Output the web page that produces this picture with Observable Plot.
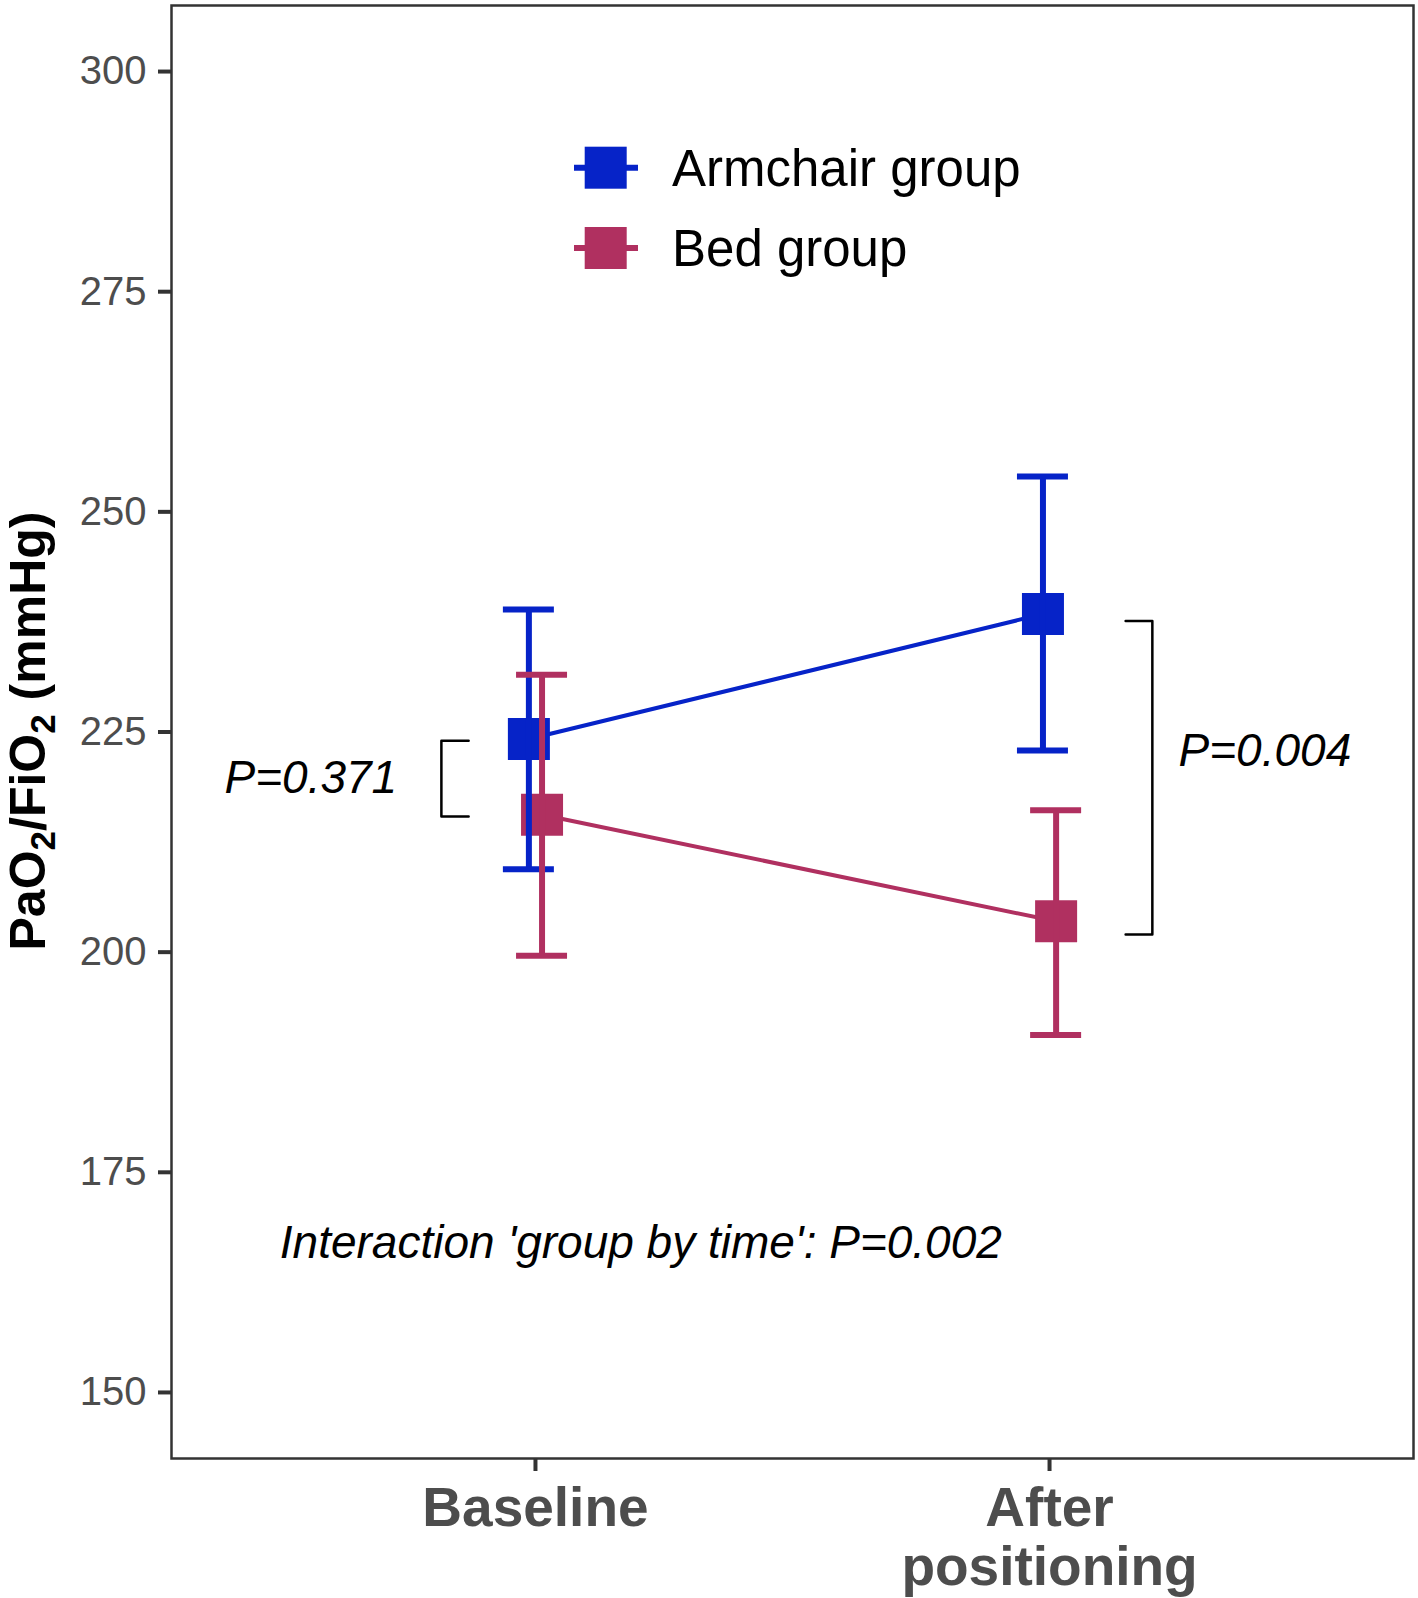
<!DOCTYPE html>
<html><head><meta charset="utf-8">
<script src="https://cdn.jsdelivr.net/npm/d3@7"></script>
<script src="https://cdn.jsdelivr.net/npm/@observablehq/plot@0.6"></script>
<style>
body{margin:0;background:#fff}
#chart{position:relative;width:1418px;height:1598px}
</style>
</head><body><div id="chart"></div>
<script>
// ---- data ----
const times = ["Baseline", "After\npositioning"];
const timeIndex = [1, 2];
const groups = ["Armchair group", "Bed group"];
const colors = ["#0623C8", "#B03060"];
const armchairMean = [224.2, 238.4];
const armchairLow  = [209.4, 222.9];
const armchairHigh = [238.9, 254.0];
const bedMean = [215.6, 203.5];
const bedLow  = [199.6, 190.6];
const bedHigh = [231.5, 216.1];
const yTicks = [150, 175, 200, 225, 250, 275, 300];
const pLabels = ["P=0.371", "P=0.004", "Interaction 'group by time': P=0.002"];
const pLabelX = [0.731, 2.251, 1.205];
const pLabelY = [219.8, 222.8, 166.9];
const bracketBaselineX = [0.870, 0.817];
const bracketBaselineY = [224.0, 215.4];
const bracketAfterX = [2.148, 2.200];
const bracketAfterY = [237.6, 202.0];

// ---- build tables ----
const series = [
  {mean: armchairMean, low: armchairLow, high: armchairHigh},
  {mean: bedMean, low: bedLow, high: bedHigh}
];
const rows = groups.flatMap((g, gi) => timeIndex.map((t, ti) => ({
  group: g, t, mean: series[gi].mean[ti], low: series[gi].low[ti], high: series[gi].high[ti]
})));
const dodgeOffset = {"Armchair group": -0.0128, "Bed group": 0.0128};
const xd = d => d.t + dodgeOffset[d.group];
const capHalf = 0.0496;

function bracket(xs, ys) {
  return [
    {x: xs[0], y: ys[0]}, {x: xs[1], y: ys[0]},
    {x: xs[1], y: ys[1]}, {x: xs[0], y: ys[1]}
  ];
}

function errorMarks(g) {
  const r = rows.filter(d => d.group === g);
  return [
    Plot.ruleX(r, {x: xd, y1: "low", y2: "high", stroke: "group", strokeWidth: 6}),
    Plot.ruleY(r, {y: "high", x1: d => xd(d) - capHalf, x2: d => xd(d) + capHalf, stroke: "group", strokeWidth: 6}),
    Plot.ruleY(r, {y: "low", x1: d => xd(d) - capHalf, x2: d => xd(d) + capHalf, stroke: "group", strokeWidth: 6})
  ];
}

const font = "'Liberation Sans', Arial, Helvetica, sans-serif";
const annFont = 46;

const svg = Plot.plot({
  width: 1418,
  height: 1598,
  marginLeft: 171,
  marginRight: 5,
  marginTop: 5,
  marginBottom: 140,
  style: {fontFamily: font, background: "#fff"},
  x: {type: "linear", domain: [0.292, 2.708], label: null},
  y: {domain: [142.5, 307.5], label: null},
  color: {domain: groups, range: colors},
  marks: [
    Plot.line(rows, {x: xd, y: "mean", z: "group", stroke: "group", strokeWidth: 4}),
    Plot.dot(rows, {x: xd, y: "mean", symbol: "square", r: 23.7, fill: "group", stroke: null}),
    ...errorMarks(groups[0]),
    ...errorMarks(groups[1]),
    Plot.line(bracket(bracketBaselineX, bracketBaselineY), {x: "x", y: "y", stroke: "black", strokeWidth: 2.5}),
    Plot.line(bracket(bracketAfterX, bracketAfterY), {x: "x", y: "y", stroke: "black", strokeWidth: 2.5}),
    Plot.text([0], {x: () => pLabelX[0], y: () => pLabelY[0], text: () => pLabels[0], textAnchor: "end", fontSize: annFont, fontStyle: "italic", fill: "black"}),
    Plot.text([1], {x: () => pLabelX[1], y: () => pLabelY[1], text: () => pLabels[1], textAnchor: "start", fontSize: annFont, fontStyle: "italic", fill: "black"}),
    Plot.text([2], {x: () => pLabelX[2], y: () => pLabelY[2], text: () => pLabels[2], textAnchor: "middle", fontSize: annFont, fontStyle: "italic", fill: "black"}),
    Plot.frame({stroke: "#333", strokeWidth: 2.5}),
    Plot.axisY({ticks: yTicks, tickSize: 13, tickPadding: 12, fontSize: 40, stroke: "#333", strokeWidth: 4, fill: "#4D4D4D"}),
    Plot.axisX({ticks: timeIndex, tickFormat: i => times[i - 1], tickSize: 13, tickPadding: 13, fontSize: 55, fontWeight: "bold", lineHeight: 1.07, stroke: "#333", strokeWidth: 4, fill: "#4D4D4D"})
  ]
});

const s = d3.select(svg);
// legend
const lg = s.append("g").attr("font-family", font).attr("text-anchor", "start");
groups.forEach((g, i) => {
  const cy = 167.7 + i * 80.3;
  lg.append("line").attr("x1", 574).attr("x2", 638).attr("y1", cy).attr("y2", cy)
    .attr("stroke", colors[i]).attr("stroke-width", 6);
  lg.append("rect").attr("x", 605.7 - 21).attr("y", cy - 21).attr("width", 42).attr("height", 42)
    .attr("fill", colors[i]);
  lg.append("text").attr("x", 672).attr("y", cy + 18.4).attr("text-anchor", "start")
    .attr("font-size", 51).attr("fill", "black").text(g);
});
// y-axis title with subscripts
const yt = s.append("text")
  .attr("transform", "translate(44.5,731) rotate(-90)")
  .attr("text-anchor", "middle")
  .attr("font-family", font)
  .attr("font-weight", "bold")
  .attr("font-size", 50)
  .attr("fill", "black");
yt.append("tspan").text("PaO");
yt.append("tspan").attr("font-size", 35).attr("dy", 10).text("2");
yt.append("tspan").attr("dy", -10).text("/FiO");
yt.append("tspan").attr("font-size", 35).attr("dy", 10).text("2");
yt.append("tspan").attr("dy", -10).text(" (mmHg)");

document.getElementById("chart").appendChild(svg);
</script>
</body></html>
